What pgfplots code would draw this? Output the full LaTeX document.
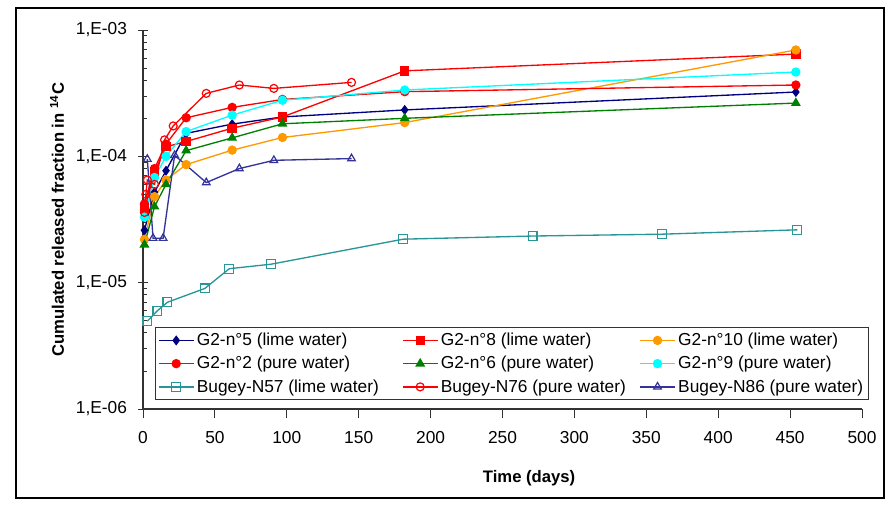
\documentclass[border=0pt]{standalone}
\usepackage{pgfplots}
\pgfplotsset{compat=1.18}
\usepackage{fontspec}
\setmainfont{Liberation Sans}
\definecolor{cnavy}{RGB}{0,0,128}
\definecolor{cred}{RGB}{255,0,0}
\definecolor{corange}{RGB}{255,153,0}
\definecolor{cgreen}{RGB}{0,128,0}
\definecolor{ccyan}{RGB}{0,255,255}
\definecolor{cteal}{RGB}{40,150,150}
\definecolor{cblue}{RGB}{51,51,153}
\begin{document}
\begin{tikzpicture}
\useasboundingbox (0pt,0pt) rectangle (669.75pt,378pt);
\draw[line width=1.5pt] (12pt,4.5pt) rectangle (663pt,372pt);
\begin{axis}[
  at={(107.25pt,71.25pt)}, anchor=south west,
  scale only axis, width=539.25pt, height=284.25pt,
  xmin=0, xmax=500, ymin=1e-6, ymax=1e-3, ymode=log,
  axis x line*=bottom, axis y line*=left,
  axis line style={-, line width=0.8pt, black!80},
  xtick={0,50,...,500},
  ytick={1e-6,1e-5,1e-4,1e-3},
  yticklabels={{1,E-06},{1,E-05},{1,E-04},{1,E-03}},
  /pgf/number format/assume math mode=true,
  tick label style={font=\fontsize{13}{15}\selectfont},
  xtick align=outside, ytick align=center,
  major tick length=7pt, minor tick length=3pt,
  minor y tick style={xshift=1.5pt},
  tick style={black!80, line width=0.7pt},
  xticklabel style={yshift=-6pt},
  yticklabel style={xshift=-5pt},
  xlabel={\bfseries Time (days)},
  ylabel={\bfseries Cumulated released fraction in \textsuperscript{14}C},
  label style={font=\fontsize{12.5}{14}\selectfont},
  xlabel style={at={(axis description cs:0.537,-0.182)}, anchor=center},
  ylabel style={at={(axis description cs:-0.1196,0.499)}, anchor=center},
  legend columns=3,
  legend style={at={(0.0167,0.0237)}, anchor=south west, draw=black!80, line width=0.8pt,
    font=\fontsize{13}{15}\selectfont, inner sep=2pt, row sep=2.5pt,
    /tikz/every even column/.append style={column sep=2pt}},
  legend cell align=left,
  legend image code/.code={\draw[mark repeat=2,mark phase=2] plot coordinates {(0pt,0pt) (13pt,0pt) (26pt,0pt)};},
  every axis plot/.append style={line width=1pt},
  clip=false,
]
\addplot[color=cnavy, mark=diamond*, mark size=3pt] coordinates {
(1,2.6e-5) (8,5.2e-5) (16,7.7e-5) (30,1.52e-4) (62,1.8e-4) (97,2.05e-4) (182,2.33e-4) (454,3.23e-4)};
\addlegendentry{\makebox[150pt][l]{G2-n°5 (lime water)}}
\addplot[color=cred, mark=square*, mark size=3pt] coordinates {
(1,3.8e-5) (8,7.5e-5) (16,1.19e-4) (30,1.31e-4) (62,1.67e-4) (97,2.05e-4) (182,4.75e-4) (454,6.45e-4)};
\addlegendentry{\makebox[145pt][l]{G2-n°8 (lime water)}}
\addplot[color=corange, mark=*, mark size=3pt] coordinates {
(1,2.2e-5) (8,4.8e-5) (16,6.5e-5) (30,8.6e-5) (62,1.12e-4) (97,1.41e-4) (182,1.85e-4) (454,6.95e-4)};
\addlegendentry{G2-n°10 (lime water)}
\addplot[color=cred, mark=*, mark size=3pt] coordinates {
(1,4.2e-5) (8,8.0e-5) (16,1.25e-4) (30,2.02e-4) (62,2.44e-4) (97,2.82e-4) (182,3.25e-4) (454,3.67e-4)};
\addlegendentry{\makebox[150pt][l]{G2-n°2 (pure water)}}
\addplot[color=cgreen, mark=triangle*, mark size=3.3pt] coordinates {
(1,2.0e-5) (8,4.0e-5) (16,6.0e-5) (30,1.11e-4) (62,1.40e-4) (97,1.81e-4) (182,2.0e-4) (454,2.64e-4)};
\addlegendentry{\makebox[145pt][l]{G2-n°6 (pure water)}}
\addplot[color=ccyan, mark=*, mark size=3pt] coordinates {
(1,3.3e-5) (8,6.8e-5) (16,1.0e-4) (30,1.57e-4) (62,2.12e-4) (97,2.78e-4) (182,3.35e-4) (454,4.65e-4)};
\addlegendentry{G2-n°9 (pure water)}
\addplot[color=cteal, mark=square, mark size=3.3pt, mark options={solid, line width=0.9pt}] coordinates {
(3,4.95e-6) (10,6.0e-6) (17,7.0e-6) (43,9.0e-6) (60,1.29e-5) (89,1.4e-5) (181,2.21e-5) (271,2.34e-5) (361,2.42e-5) (455,2.62e-5)};
\addlegendentry{\makebox[150pt][l]{Bugey-N57 (lime water)}}
\addplot[color=cred, mark=o, mark size=3pt, mark options={solid, line width=0.9pt}] coordinates {
(1,3.6e-5) (2,5.0e-5) (3,6.5e-5) (8,6.0e-5) (15,1.35e-4) (21,1.74e-4) (44,3.15e-4) (67,3.67e-4) (91,3.45e-4) (145,3.85e-4)};
\addlegendentry{\makebox[145pt][l]{Bugey-N76 (pure water)}}
\addplot[color=cblue, mark=triangle, mark size=3.3pt, mark options={solid, line width=0.9pt}] coordinates {
(3,9.5e-5) (7,2.25e-5) (14,2.25e-5) (22,1.02e-4) (44,6.2e-5) (67,8.0e-5) (91,9.3e-5) (145,9.6e-5)};
\addlegendentry{Bugey-N86 (pure water)}
\end{axis}
\end{tikzpicture}
\end{document}
